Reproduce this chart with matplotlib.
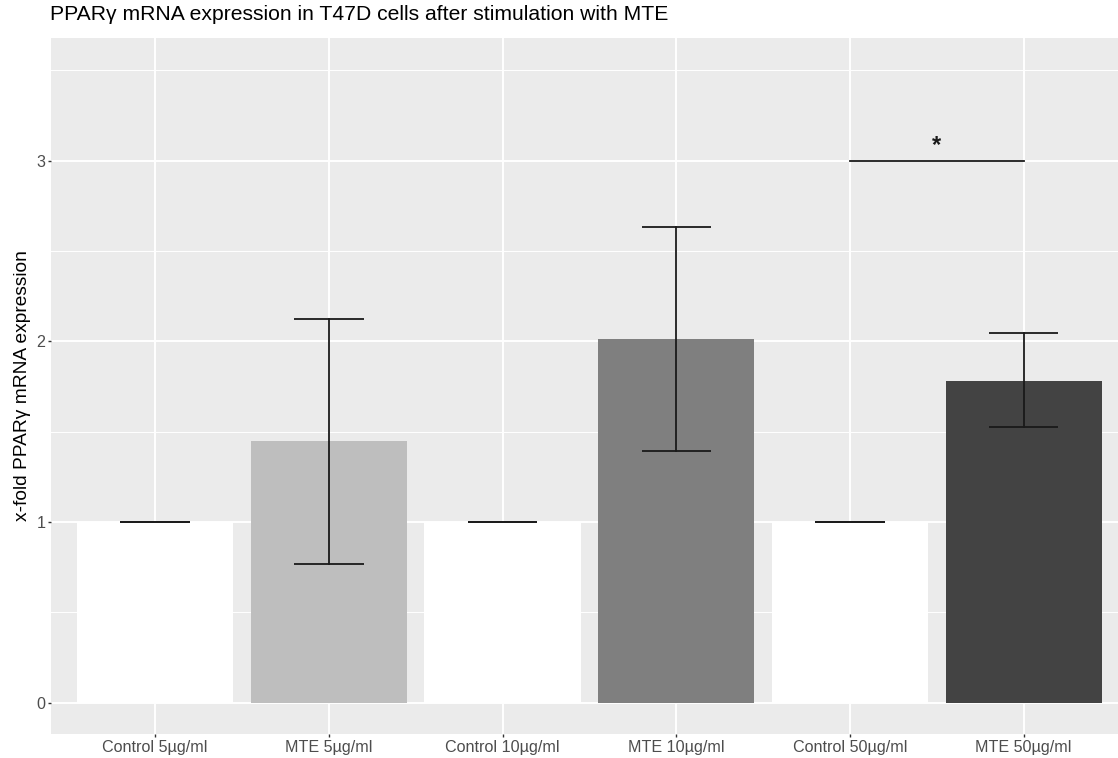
import matplotlib
matplotlib.use("Agg")
import matplotlib.pyplot as plt
import numpy as np

plt.rcParams["font.family"] = ["Liberation Sans", "DejaVu Sans"]

groups = ["Control 5µg/ml", "MTE 5µg/ml", "Control 10µg/ml",
          "MTE 10µg/ml", "Control 50µg/ml", "MTE 50µg/ml"]
means = [1.0, 1.448, 1.0, 2.013, 1.0, 1.78]
err_low = [1.0, 0.768, 1.0, 1.391, 1.0, 1.526]
err_high = [1.0, 2.123, 1.0, 2.63, 1.0, 2.046]
bar_colors = ["#FFFFFF", "#BEBEBE", "#FFFFFF", "#7F7F7F", "#FFFFFF", "#434343"]
sig_pair = (4, 5)
sig_y = 3.0
sig_label = "*"

fig = plt.figure(figsize=(11.18, 7.58), dpi=100)
ax = fig.add_axes([0.0456, 0.0317, 0.9633, 0.918])
ax.set_facecolor("#EBEBEB")

x = np.arange(1, len(groups) + 1)
ax.bar(x, means, width=0.9, color=bar_colors, zorder=2)

# error bars: vertical stem plus caps of width 0.4
for xi, lo, hi in zip(x, err_low, err_high):
    ax.plot([xi, xi], [lo, hi], color="#1A1A1A", lw=1.3, zorder=3)
    for yv in (lo, hi):
        ax.plot([xi - 0.2, xi + 0.2], [yv, yv], color="#1A1A1A", lw=1.3, zorder=3,
                solid_capstyle="butt")

# significance bracket
x1, x2 = x[sig_pair[0]], x[sig_pair[1]]
ax.plot([x1, x2], [sig_y, sig_y], color="#1A1A1A", lw=1.3, zorder=3)
ax.text((x1 + x2) / 2, sig_y + 0.02, sig_label, ha="center", va="bottom",
        fontsize=17, fontweight="bold", color="#1A1A1A")

ax.set_xlim(0.4, 6.6)
ax.set_ylim(-0.173, 3.678)
ax.set_xticks(x)
ax.set_xticklabels(groups)
ax.set_yticks([0, 1, 2, 3])
ax.set_yticks([0.5, 1.5, 2.5, 3.5], minor=True)

ax.grid(which="major", color="white", lw=1.4, zorder=0)
ax.grid(which="minor", axis="y", color="white", lw=0.7, zorder=0)
ax.set_axisbelow(True)
for s in ax.spines.values():
    s.set_visible(False)
ax.tick_params(axis="both", which="major", length=2.5, width=1, color="#333333",
               labelsize=11.6, labelcolor="#4D4D4D", pad=1.5)
ax.tick_params(axis="both", which="minor", length=0)

ax.set_ylabel("x-fold PPARγ mRNA expression", fontsize=13.8, color="black")
ax.yaxis.set_label_coords(-0.019, 0.5)
fig.text(0.0447, 0.981, "PPARγ mRNA expression in T47D cells after stimulation with MTE",
         fontsize=15.2, ha="left", va="center")

fig.savefig("out.png", dpi=100)
